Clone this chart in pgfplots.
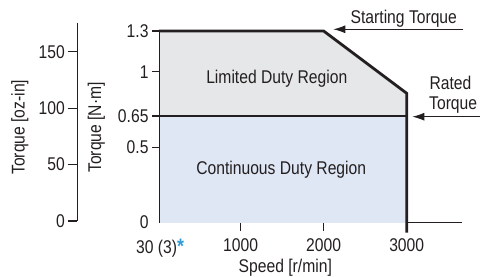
\documentclass[border=0pt]{standalone}
\usepackage{pgfplots}
\pgfplotsset{compat=1.18}
\usepackage{fontspec}
\setmainfont{Liberation Sans}[FakeStretch=0.85]
\usetikzlibrary{arrows.meta}
\definecolor{ink}{HTML}{231F20}
\definecolor{limgray}{HTML}{E6E7E8}
\definecolor{contblue}{HTML}{DFE6F4}
\definecolor{astblue}{HTML}{2E9BD6}
\newcommand\f{\fontsize{18.5}{21}\selectfont}
\begin{document}
\begin{tikzpicture}
\path[use as bounding box] (0bp,0bp) rectangle (480bp,277bp);
% left axis oz-in
\begin{axis}[
  at={(77.3bp,56bp)}, anchor=south west,
  scale only axis, width=20bp, height=198.3bp,
  xmin=0, xmax=1, ymin=0, ymax=175.7,
  axis x line=none, axis y line=left,
  axis line style={-, ink, line width=1.2pt},
  ytick={0,50,100,150},
  yticklabels={0,50,100,150},
  tick align=outside, major tick length=9bp,
  tick style={ink, line width=1.1pt},
  /pgf/number format/assume math mode=true,
  tick label style={font=\f, text=ink},
]
\addplot[draw=none] coordinates {(0,0)};
\end{axis}
% main axis
\begin{axis}[
  at={(160bp,54.5bp)}, anchor=south west,
  scale only axis, width=301.7bp, height=191.5bp,
  xmin=30, xmax=3662, ymin=0, ymax=191.5,
  axis x line=bottom, axis y line=left,
  axis line style={-, ink, line width=1.2pt},
  clip=false,
  xtick={1000,2000,3000}, xticklabels={1000,2000,3000},
  extra x ticks={30}, extra x tick labels={30 (3)\textcolor{astblue}{\bfseries\fontsize{21}{21}\selectfont *}},
  extra x tick style={major tick style={draw=none}},
  ytick={75.2,106.5,150.8,191.5}, yticklabels={0.5,0.65,1,1.3},
  extra y ticks={0}, extra y tick labels={0},
  extra y tick style={major tick style={draw=none}},
  tick align=outside, major tick length=8bp,
  tick style={ink, line width=1.1pt},
  /pgf/number format/assume math mode=true,
  tick label style={font=\f, text=ink},
  xticklabel style={yshift=-5bp},
]
\addplot[fill=limgray, draw=none] coordinates {(30,106.5) (30,191.5) (2000,191.5) (3000,129.2) (3000,106.5)} -- cycle;
\addplot[fill=contblue, draw=none] coordinates {(30,0) (30,106.5) (3000,106.5) (3000,0)} -- cycle;
\addplot[ink, line width=2.6pt] coordinates {(30,106.5) (3000,106.5)};
\addplot[ink, line width=2.8pt, line join=miter] coordinates {(20,191.5) (2000,191.5) (3000,129.2) (3000,-10)};
\end{axis}
% annotations
\node[font=\f, text=ink, anchor=base] at (276.8bp,193.7bp) {Limited Duty Region};
\node[font=\f, text=ink, anchor=base] at (281.2bp,102bp) {Continuous Duty Region};
\node[font=\f, text=ink, anchor=base] at (403.8bp,253bp) {Starting Torque};
\draw[ink, line width=1.1pt, -{Latex[length=12bp,width=8bp]}] (463.3bp,247.7bp) -- (333.3bp,247.7bp);
\node[font=\f, text=ink, anchor=base west, inner sep=0pt] at (429.3bp,187.5bp) {Rated};
\node[font=\f, text=ink, anchor=base west, inner sep=0pt] at (429bp,167.7bp) {Torque};
\draw[ink, line width=1.1pt, -{Latex[length=12bp,width=8bp]}] (481bp,160.3bp) -- (412.3bp,160.3bp);
\node[font=\f, text=ink, anchor=base, inner sep=0pt] at (285.3bp,4.8bp) {Speed [r/min]};
\node[font=\f, text=ink, anchor=base, rotate=90] at (24.5bp,149.7bp) {Torque [oz-in]};
\node[font=\f, text=ink, anchor=base, rotate=90] at (101bp,149.5bp) {Torque [N·m]};
\end{tikzpicture}
\end{document}
